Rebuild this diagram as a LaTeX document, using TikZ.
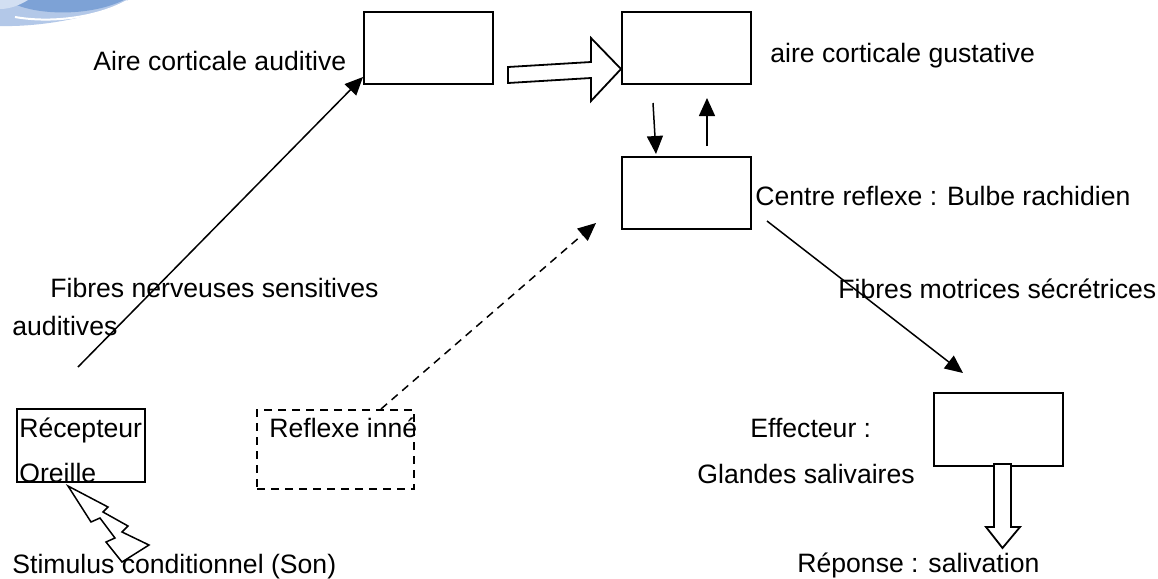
\documentclass[tikz,border=0pt]{standalone}
\usepackage{fontspec}
\setmainfont{Liberation Sans}
\usetikzlibrary{arrows.meta,positioning,calc}

\definecolor{swdark}{HTML}{7DA2D6}
\definecolor{swlight}{HTML}{B3C8E8}
\definecolor{swpale}{HTML}{D2DFF2}

\begin{document}
\begin{tikzpicture}[
  x=0.5pt, y=-0.5pt,
  every node/.style={font=\fontsize{13.3}{16}\selectfont},
  box/.style={draw, line width=1pt, minimum width=64.5pt, minimum height=36pt, inner sep=0pt},
  dbox/.style={box, dash pattern=on 4pt off 3pt, minimum width=78.5pt, minimum height=39.5pt},
  txt/.style={anchor=base west, inner sep=0pt},
  arrow/.style={-{Triangle[length=9pt,width=8pt]}, line width=0.75pt},
  darrow/.style={arrow, dash pattern=on 4pt off 3pt},
  hollow/.style={draw, fill=white, line width=0.9pt, line join=miter}
]
  \useasboundingbox (0,0) rectangle (1158,579);

  % corner swoosh
  \fill[swlight] (0,0) -- (0,26) .. controls (40,27) and (95,18) .. (128,0) -- cycle;
  \fill[swdark] (8,0) .. controls (25,14) and (85,19) .. (124,0) -- cycle;
  \fill[swpale] (0,0) -- (0,9) .. controls (10,9) and (20,5) .. (28,0) -- cycle;
  \draw[white, line width=1pt] (15,17) .. controls (55,24) and (100,16) .. (127,1);

  % boxes
  \node[box] (audi) at (428.5,48) {};
  \node[box, right=63.5pt of audi] (gust) {};
  \node[box, below=35.5pt of gust] (bulbe) {};
  \node[box, minimum height=36.5pt] (effect) at (998.5,429.5) {};
  \node[box, minimum width=64pt, minimum height=36.5pt] (recep) at (81,445.5) {};
  \node[dbox] (inne) at (335.5,449.5) {};

  % labels
  \node[txt] (laudi) at (93,70) {Aire corticale auditive};
  \node[txt] (lgust) at (770,62) {aire corticale gustative};
  \node[txt] (lbulbe) at (755,205) {Centre reflexe : Bulbe rachidien};
  \node[txt] (lsens) at (50,297) {Fibres nerveuses sensitives};
  \node[txt] (lsens2) at (12,335) {auditives};
  \node[txt] (lmot) at (838,298) {Fibres motrices sécrétrices};
  \node[txt] (lrecep) at (19,437) {Récepteur};
  \node[txt] (loreille) at (19,482) {Oreille};
  \node[txt] (linne) at (269,437) {Reflexe inné};
  \node[txt] (leffect) at (750,437) {Effecteur :};
  \node[txt] (lglande) at (697,483) {Glandes salivaires};
  \node[txt] (lstim) at (12,573) {Stimulus conditionnel (Son)};
  \node[txt] (lrep) at (797,572) {Réponse : salivation};

  % connectors
  \coordinate (fibre) at (78,367);
  \draw[arrow] (fibre) -- ($(audi.south west)+(0,-8)$);
  \draw[darrow] ($(inne.north east)+(-34,0)$) -- ($(bulbe.south west)+(-25,-7)$);
  \draw[arrow] ($(gust.south west)+(32,18)$) -- ($(bulbe.north west)+(35,-2)$);
  \draw[arrow] ($(bulbe.north west)+(86,-10)$) -- ($(gust.south west)+(86,13)$);
  \draw[arrow] ($(bulbe.south east)+(15,-9)$) -- ($(effect.north west)+(30,-19)$);

  % hollow arrows
  \draw[hollow] ($(gust.south west)+(0,-16)$) -- ++(-30,-31) -- ++(0,24) -- ++(-83,5)
    -- ++(0,16) -- ++(83,-5) -- ++(0,23) -- cycle;
  \draw[hollow] ($(effect.south)+(-4.5,-3)$) -- ++(0,63) -- ++(-8,0) -- ++(16.5,21)
    -- ++(17.5,-21) -- ++(-9,0) -- ++(0,-63) -- cycle;

  % stimulus bolt
  \draw[line width=0.75pt, line join=miter] (68,486) -- (108,507) -- (103,512) -- (128,526)
    -- (122,532) -- (149,545) -- (122,562) -- (106,542) -- (115,538) -- (100,518)
    -- (91,522) -- cycle;
\end{tikzpicture}
\end{document}
